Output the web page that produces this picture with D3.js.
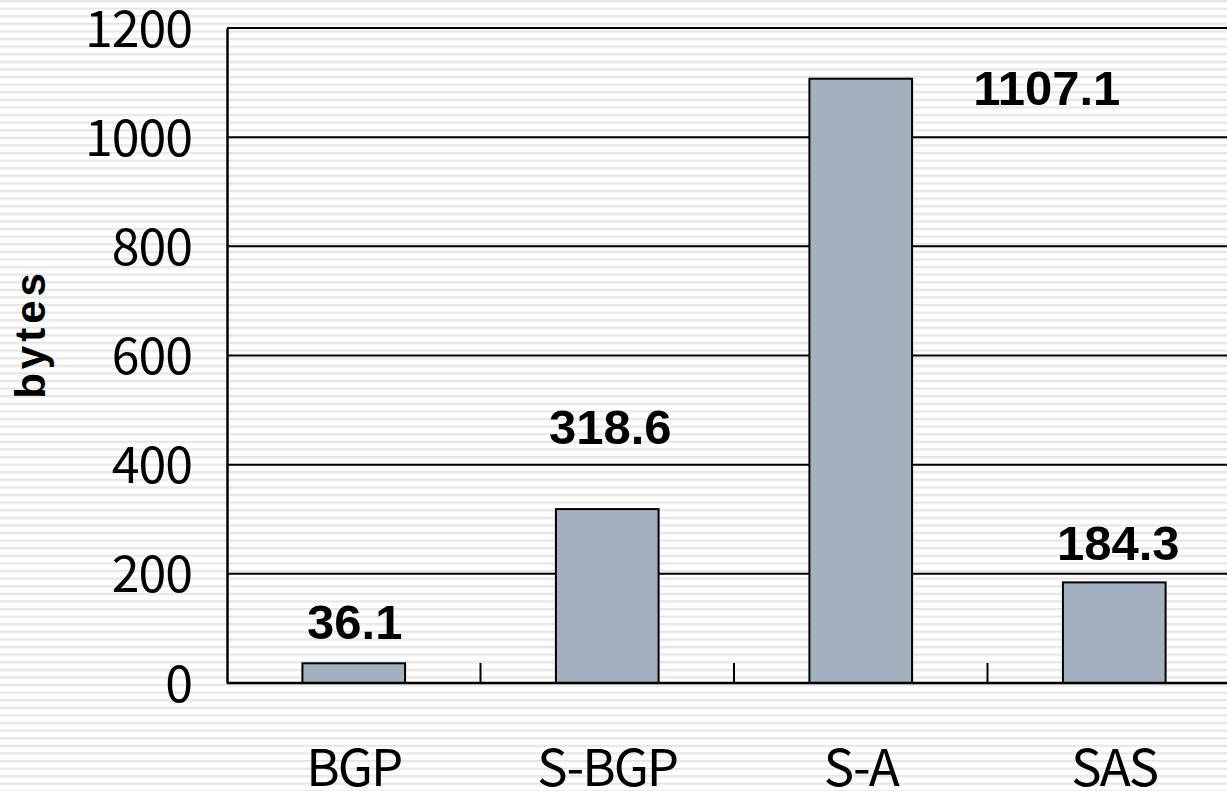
<!DOCTYPE html>
<html>
<head>
<meta charset="utf-8">
<script src="https://cdn.jsdelivr.net/npm/d3@7/dist/d3.min.js"></script>
<style>
  html, body { margin: 0; padding: 0; background: #fff; }
  svg { display: block; }
</style>
</head>
<body>
<script>
// Average message size per protocol
const categories = ["BGP", "S-BGP", "S-A", "SAS"];
const values = [36.1, 318.6, 1107.1, 184.3];
const yTicks = [0, 200, 400, 600, 800, 1000, 1200];
const yLabel = "bytes";

const W = 1227, H = 791;
const svg = d3.select("body").append("svg")
  .attr("width", W).attr("height", H);

// striped backdrop
const defs = svg.append("defs");
const pat = defs.append("pattern")
  .attr("id", "stripes")
  .attr("patternUnits", "userSpaceOnUse")
  .attr("width", 20).attr("height", 7.6);
pat.append("rect").attr("width", 20).attr("height", 7.6).attr("fill", "#ffffff");
pat.append("rect").attr("y", 0).attr("width", 20).attr("height", 1.6).attr("fill", "#e2e2e2");
pat.append("rect").attr("y", 1.6).attr("width", 20).attr("height", 1).attr("fill", "#efefef");
svg.append("rect").attr("width", W).attr("height", H).attr("fill", "url(#stripes)");

const plotLeft = 227, plotTop = 28, plotBottom = 683, plotRight = 1241;

const x = d3.scaleBand()
  .domain(categories)
  .range([plotLeft, plotRight])
  .paddingInner(0.595)
  .paddingOuter(0.2975);

const y = d3.scaleLinear()
  .domain([0, 1200])
  .range([plotBottom, plotTop]);

const tickFont = "'Noto Sans CJK KR', 'Noto Sans', sans-serif";

// horizontal grid lines
svg.append("g")
  .selectAll("line")
  .data(yTicks.filter(d => d > 0))
  .join("line")
  .attr("x1", plotLeft).attr("x2", W)
  .attr("y1", d => y(d)).attr("y2", d => y(d))
  .attr("stroke", "#000").attr("stroke-width", 2);

// y axis
const yAxis = svg.append("g")
  .attr("transform", `translate(${plotLeft},0)`)
  .call(d3.axisLeft(y).tickValues(yTicks).tickFormat(d3.format("d")).tickSize(0).tickPadding(35));
yAxis.select(".domain").attr("stroke", "#000").attr("stroke-width", 2.5);
yAxis.selectAll("text")
  .attr("font-family", tickFont)
  .attr("font-size", 50)
  .attr("letter-spacing", -1)
  .attr("fill", "#000")
  .attr("dy", "0.36em");

// bars
svg.append("g")
  .selectAll("rect")
  .data(values)
  .join("rect")
  .attr("x", (d, i) => x(categories[i]))
  .attr("y", d => y(d))
  .attr("width", x.bandwidth())
  .attr("height", d => y(0) - y(d))
  .attr("fill", "#a3b1bf")
  .attr("stroke", "#000")
  .attr("stroke-width", 2);

// x axis baseline with inward ticks between categories
svg.append("line")
  .attr("x1", plotLeft).attr("x2", W)
  .attr("y1", plotBottom).attr("y2", plotBottom)
  .attr("stroke", "#000").attr("stroke-width", 2.5);
svg.append("g")
  .selectAll("line")
  .data(categories.slice(1))
  .join("line")
  .attr("x1", d => x(d) - x.step() * x.paddingInner() / 2)
  .attr("x2", d => x(d) - x.step() * x.paddingInner() / 2)
  .attr("y1", plotBottom).attr("y2", plotBottom - 20)
  .attr("stroke", "#000").attr("stroke-width", 2);

// category labels
svg.append("g")
  .selectAll("text")
  .data(categories)
  .join("text")
  .attr("x", d => x(d) + x.bandwidth() / 2)
  .attr("y", 786)
  .attr("text-anchor", "middle")
  .attr("font-family", tickFont)
  .attr("font-size", 51)
  .attr("letter-spacing", -2)
  .attr("fill", "#000")
  .text(d => d);

// value labels, nudged clear of the bars
const nudges = [[1, -24], [3, -65], [186, 26], [4, -22]];
svg.append("g")
  .selectAll("text")
  .data(values)
  .join("text")
  .attr("x", (d, i) => x(categories[i]) + x.bandwidth() / 2 + nudges[i][0])
  .attr("y", (d, i) => y(d) + nudges[i][1])
  .attr("text-anchor", "middle")
  .attr("font-family", "'Liberation Sans', Arial, sans-serif")
  .attr("font-weight", "bold")
  .attr("font-size", 49)
  .attr("fill", "#000")
  .text(d => d3.format(".1f")(d));

// y axis title
svg.append("text")
  .attr("transform", `translate(45,334) rotate(-90)`)
  .attr("text-anchor", "middle")
  .attr("font-family", "'Liberation Sans', Arial, sans-serif")
  .attr("font-weight", "bold")
  .attr("font-size", 42)
  .attr("letter-spacing", 4)
  .attr("fill", "#000")
  .text(yLabel);
</script>
</body>
</html>
